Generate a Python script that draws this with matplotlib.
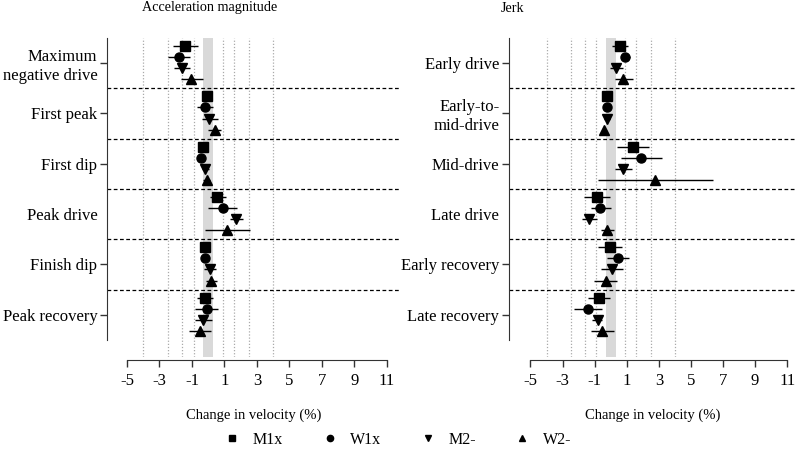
import matplotlib.pyplot as plt
from matplotlib.lines import Line2D

plt.rcParams['font.family'] = ['Liberation Serif', 'DejaVu Serif']
plt.rcParams['font.size'] = 12

groups = ['M1x', 'W1x', 'M2-', 'W2-']
markers = ['s', 'o', 'v', '^']

# acceleration magnitude: mean, lower and upper limit per group (rows = phases)
acc_labels = ['Maximum\nnegative drive', 'First peak', 'First dip',
              'Peak drive', 'Finish dip', 'Peak recovery']
acc_mean = [[-1.41, -1.80, -1.62, -1.04],
            [-0.10, -0.20, 0.07, 0.40],
            [-0.30, -0.43, -0.18, -0.10],
            [0.56, 0.91, 1.69, 1.17],
            [-0.22, -0.22, 0.09, 0.19],
            [-0.22, -0.10, -0.30, -0.51]]
acc_lo = [[-2.19, -2.50, -2.09, -1.68],
          [-0.38, -0.67, -0.40, 0.00],
          [-0.55, -0.60, -0.40, -0.30],
          [0.11, 0.00, 1.34, -0.20],
          [-0.50, -0.40, -0.26, -0.14],
          [-0.67, -0.82, -0.82, -1.18]]
acc_hi = [[-0.61, -1.12, -1.12, -0.30],
          [0.21, 0.27, 0.58, 0.77],
          [-0.05, -0.25, 0.05, 0.10],
          [1.09, 1.79, 2.12, 2.57],
          [0.11, 0.00, 0.48, 0.56],
          [0.27, 0.62, 0.21, 0.15]]

# jerk
jerk_labels = ['Early drive', 'Early-to-\nmid-drive', 'Mid-drive',
               'Late drive', 'Early recovery', 'Late recovery']
jerk_mean = [[0.57, 0.90, 0.31, 0.78],
             [-0.21, -0.23, -0.21, -0.39],
             [1.38, 1.89, 0.78, 2.78],
             [-0.83, -0.64, -1.34, -0.21],
             [-0.04, 0.47, 0.08, -0.31],
             [-0.72, -1.42, -0.80, -0.52]]
jerk_lo = [[0.10, 0.62, -0.04, 0.27],
           [-0.35, -0.35, -0.40, -0.50],
           [0.37, 0.62, 0.27, -0.77],
           [-1.65, -1.23, -1.79, -0.62],
           [-0.78, -0.21, -0.58, -1.03],
           [-1.40, -2.31, -1.14, -1.23]]
jerk_hi = [[1.09, 1.23, 0.76, 1.38],
           [-0.10, -0.10, -0.05, -0.30],
           [2.36, 3.19, 1.30, 6.38],
           [-0.06, 0.00, -0.83, 0.20],
           [0.72, 1.17, 0.76, 0.37],
           [-0.04, -0.52, -0.52, 0.20]]

thresholds = [0.9, 1.6, 2.5, 4.0]
xticks = [-5, -3, -1, 1, 3, 5, 7, 9, 11]
offsets = [0.16, 0.38, 0.60, 0.82]

fig = plt.figure(figsize=(7.96, 4.57), dpi=100)
ax1 = fig.add_axes([107/796, 1-357/457, 293/796, 319/457])
ax2 = fig.add_axes([509/796, 1-357/457, 287/796, 319/457])


def panel(ax, labels, mean, lo, hi, xlim, no_tick):
    n = len(labels)
    ax.axvspan(-0.3, 0.3, color='#d9d9d9', lw=0, zorder=0)
    for t in thresholds:
        for s in (-1, 1):
            ax.axvline(s*t, color='#aaaaaa', ls=(0, (1, 1.5)), lw=0.9, zorder=1)
    for k in range(1, n):
        ax.axhline(k, color='black', ls=(0, (3, 2)), lw=0.9, zorder=1)
    for g in range(len(groups)):
        ys = [i + offsets[g] for i in range(n)]
        xs = [mean[i][g] for i in range(n)]
        err = [[mean[i][g] - lo[i][g] for i in range(n)],
               [hi[i][g] - mean[i][g] for i in range(n)]]
        ax.errorbar(xs, ys, xerr=err, fmt=markers[g], color='black',
                    ms=6.5, elinewidth=1, capsize=0, zorder=3)
    ax.set_ylim(6.34, 0)
    ax.set_xlim(*xlim)
    ax.set_yticks([i + 0.5 for i in range(n)])
    ax.set_yticklabels(labels)
    ax.set_xticks(xticks)
    ax.set_xticklabels([str(v) for v in xticks])
    for sp in ('top', 'right'):
        ax.spines[sp].set_visible(False)
    ax.spines['left'].set_bounds(0, n)
    ax.spines['bottom'].set_bounds(-5, 11)
    ax.spines['bottom'].set_position(('outward', 2.5))
    ax.spines['left'].set_color('#333333')
    ax.spines['bottom'].set_color('#333333')
    ax.tick_params(axis='both', length=5, width=1, color='#333333', pad=2)
    ax.tick_params(axis='x', pad=4)
    ax.yaxis.get_major_ticks()[no_tick].tick1line.set_visible(False)
    ax.set_xlabel('Change in velocity (%)', fontsize=10.5, labelpad=14)


panel(ax1, acc_labels, acc_mean, acc_lo, acc_hi, (-6.23, 11.8), 3)
panel(ax2, jerk_labels, jerk_mean, jerk_lo, jerk_hi, (-6.34, 11.55), 3)

fig.text(210/796, 1-8/457, 'Acceleration magnitude', ha='center', va='center',
         fontsize=10.2)
fig.text(513/796, 1-8/457, 'Jerk', ha='center', va='center', fontsize=10.2)

handles = [Line2D([], [], ls='none', marker=m, color='black', ms=4.5)
           for m in markers]
fig.legend(handles, groups, loc='center', bbox_to_anchor=(0.5, 1-440/457),
           ncol=4, frameon=False, fontsize=11.5, handletextpad=0.8,
           columnspacing=2.4, handlelength=1.0)

fig.savefig('out.png', dpi=100)
